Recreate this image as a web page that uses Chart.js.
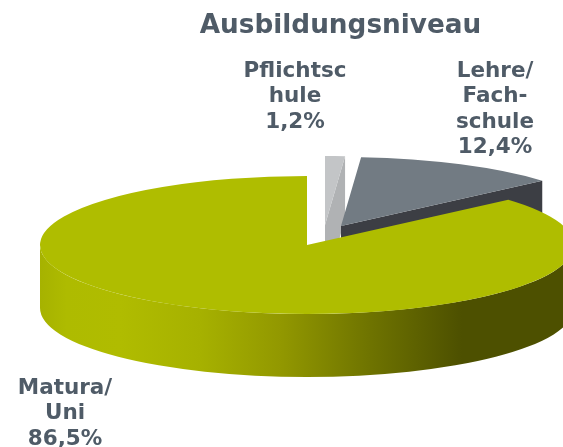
<!DOCTYPE html>
<html><head><meta charset="utf-8">
<style>html,body{margin:0;padding:0;background:#fff}canvas{display:block}</style>
<script src="https://cdn.jsdelivr.net/npm/chart.js@4"></script>
</head><body>
<canvas id="c" width="563" height="447"></canvas>
<script>
const categories = ['Pflichtschule', 'Lehre/Fachschule', 'Matura/Uni'];
const values = [1.2, 12.4, 86.5];
const labelLines = [['Pflichtsc', 'hule', '1,2%'], ['Lehre/', 'Fach-', 'schule', '12,4%'], ['Matura/', 'Uni', '86,5%']];
const labelAnchors = [[295, 71], [495, 71], [65, 388]];
const sliceColors = ['#c3c5c7', '#727b83', '#afbd00'];
const cutColors = ['#b0b2b4', '#3c3e44', '#4d5000'];
const sliceOrigins = [[325, 225], [341, 226], [307, 245]];
const TEXT = '#4f5b67', RX = 267, SQUASH = 0.2584, DEPTH = 63, LINE = 25.5;
const wallStops = [[0, '#a6b200'], [0.05, '#aebb00'], [0.15, '#b0bc00'], [0.3, '#a6b100'], [0.45, '#929800'], [0.62, '#6e7300'], [0.79, '#4d5000'], [1, '#4d5000']];

const pie3d = {
  id: 'pie3d',
  beforeDatasetDraw(chart, args) {
    const ctx = chart.ctx, RY = RX * SQUASH;
    chart.getDatasetMeta(args.index).data.forEach((arc, i) => {
      const [ox, oy] = sliceOrigins[i];
      // cut face behind the slice's end edge
      const ex = ox + Math.cos(arc.endAngle) * RX, ey = oy + Math.sin(arc.endAngle) * RY;
      if (arc.endAngle < 0) {
        ctx.fillStyle = cutColors[i];
        ctx.beginPath();
        ctx.moveTo(ox, oy); ctx.lineTo(ex, ey);
        ctx.lineTo(ex, ey + DEPTH); ctx.lineTo(ox, oy + DEPTH);
        ctx.closePath(); ctx.fill();
      }
      // outer rim on the lower half
      const lo = Math.max(arc.startAngle, 0), hi = Math.min(arc.endAngle, Math.PI);
      if (hi > lo) {
        const g = ctx.createLinearGradient(ox - RX, 0, ox + RX, 0);
        wallStops.forEach(s => g.addColorStop(s[0], s[1]));
        ctx.fillStyle = g;
        ctx.beginPath();
        ctx.ellipse(ox, oy, RX, RY, 0, lo, hi);
        ctx.ellipse(ox, oy + DEPTH, RX, RY, 0, hi, lo, true);
        ctx.closePath(); ctx.fill();
      }
      // top face, drawn by the arc element under a squash transform
      ctx.save();
      ctx.translate(ox, oy);
      ctx.scale(1, SQUASH);
      ctx.translate(-arc.x, -arc.y);
      arc.draw(ctx);
      ctx.restore();
    });
    return false;
  },
  afterDatasetsDraw(chart) {
    const ctx = chart.ctx;
    ctx.save();
    ctx.fillStyle = TEXT;
    ctx.font = 'bold 21.5px "DejaVu Sans"';
    ctx.textAlign = 'center';
    ctx.textBaseline = 'middle';
    labelLines.forEach((lines, i) => lines.forEach((t, j) =>
      ctx.fillText(t, labelAnchors[i][0], labelAnchors[i][1] + j * LINE)));
    ctx.restore();
  }
};

new Chart(document.getElementById('c'), {
  type: 'pie',
  data: { labels: categories, datasets: [{ data: values, backgroundColor: sliceColors, borderWidth: 0, radius: RX }] },
  options: {
    responsive: false,
    animation: false,
    layout: { padding: { left: 118 } },
    plugins: {
      legend: { display: false },
      tooltip: { enabled: false },
      title: { display: true, text: 'Ausbildungsniveau', color: TEXT, font: { family: '"DejaVu Sans"', size: 26.3, weight: 'bold' }, padding: { top: 10, bottom: 0 } }
    }
  },
  plugins: [pie3d]
});
</script>
</body></html>
